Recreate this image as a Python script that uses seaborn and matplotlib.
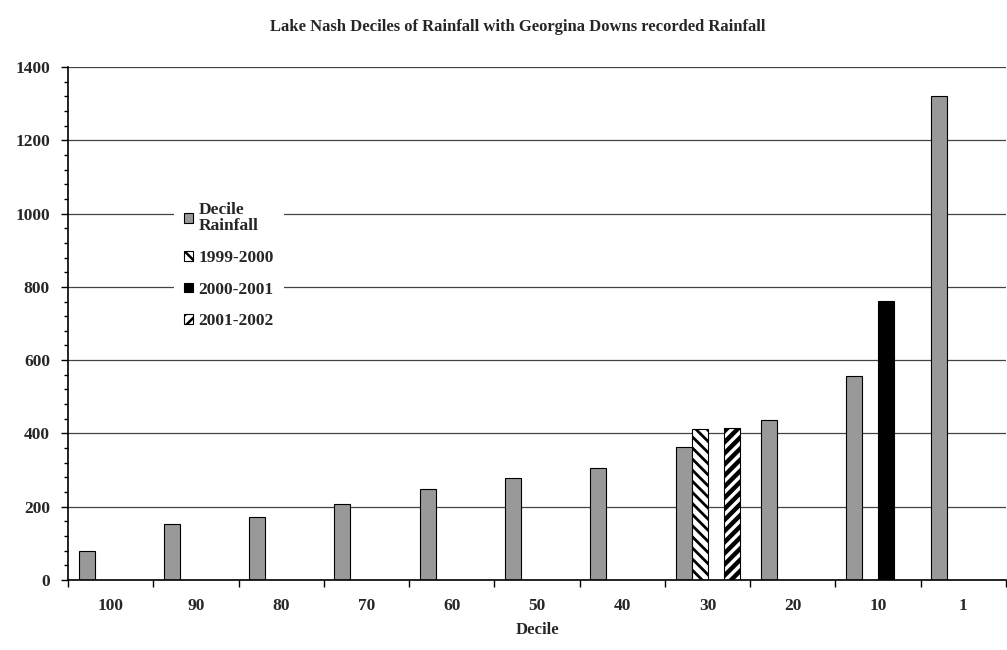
import matplotlib
matplotlib.use("Agg")
import matplotlib.pyplot as plt
import seaborn as sns
import pandas as pd
import numpy as np
from matplotlib.ticker import MultipleLocator, FixedLocator, NullFormatter
from matplotlib.patches import Patch

# ---------------- data ----------------
deciles = ["100", "90", "80", "70", "60", "50", "40", "30", "20", "10", "1"]
decile_rainfall = [78, 154, 172, 208, 248, 279, 307, 362, 436, 556, 1321]
rain_1999_2000 = [None, None, None, None, None, None, None, 411, None, None, None]
rain_2000_2001 = [None, None, None, None, None, None, None, None, None, 761, None]
rain_2001_2002 = [None, None, None, None, None, None, None, 416, None, None, None]
series_names = ["Decile Rainfall", "1999-2000", "2000-2001", "2001-2002"]
legend_labels = ["Decile\nRainfall", "1999-2000", "2000-2001", "2001-2002"]
y_ticks = [0, 200, 400, 600, 800, 1000, 1200, 1400]

rows = []
for name, vals in zip(series_names,
                      [decile_rainfall, rain_1999_2000, rain_2000_2001, rain_2001_2002]):
    for d, v in zip(deciles, vals):
        if v is not None:
            rows.append({"Decile": d, "Series": name, "Rainfall": v})
df = pd.DataFrame(rows)

# ---------------- style ----------------
sns.set_style("white")
plt.rcParams["font.family"] = ["Liberation Serif", "DejaVu Serif"]
plt.rcParams["font.weight"] = "bold"
plt.rcParams["hatch.linewidth"] = 1.8

fig = plt.figure(figsize=(10.07, 6.5), dpi=100)
ax = fig.add_axes([68 / 1007, 70 / 650, 1 - 68 / 1007 - 0.001, (580 - 67) / 650])

palette = {"Decile Rainfall": "#999999", "1999-2000": "white",
           "2000-2001": "black", "2001-2002": "white"}

sns.barplot(data=df, x="Decile", y="Rainfall", hue="Series",
            order=deciles, hue_order=series_names, palette=palette,
            width=0.75, dodge=True, edgecolor="black", linewidth=0.8,
            saturation=1, errorbar=None, legend=False, ax=ax)

hatches = {"1999-2000": ("\\\\\\", 2.0), "2001-2002": ("///", 3.2)}
for name, cont in zip(series_names, ax.containers):
    if name in hatches:
        h, lw = hatches[name]
        for p in cont.patches:
            p.set_hatch(h)
            p.set_edgecolor("black")
            if hasattr(p, "set_hatch_linewidth"):
                p.set_hatch_linewidth(lw)

# axes limits / ticks
ax.set_ylim(0, 1400)
ax.set_xlim(-0.5, len(deciles) - 0.5)
ax.yaxis.set_major_locator(FixedLocator(y_ticks))
ax.yaxis.set_minor_locator(MultipleLocator(40))
ax.xaxis.set_minor_locator(FixedLocator(np.arange(-0.5, len(deciles), 1.0)))
ax.xaxis.set_minor_formatter(NullFormatter())
ax.tick_params(axis="x", which="major", length=0, pad=13, labelsize=12.5)
ax.tick_params(axis="x", which="minor", length=5, width=1, direction="out",
               bottom=True, color="black")
ax.tick_params(axis="y", which="major", length=5, width=1, direction="out",
               left=True, pad=8, labelsize=12.5, color="black")
ax.tick_params(axis="y", which="minor", length=3, width=1, direction="out",
               left=True, color="black")
for lab in ax.get_xticklabels() + ax.get_yticklabels():
    lab.set_fontweight("bold")

ax.yaxis.grid(True, color="#444444", linewidth=0.9)
ax.xaxis.grid(False)
ax.set_axisbelow(True)
for s in ["top", "right"]:
    ax.spines[s].set_visible(False)
for s in ["left", "bottom"]:
    ax.spines[s].set_color("black")
    ax.spines[s].set_linewidth(1.2)

ax.set_ylabel("")
ax.set_xlabel("Decile", fontsize=12, fontweight="bold", labelpad=6)
fig.text(518 / 1007, 1 - 27 / 650,
         "Lake Nash Deciles of Rainfall with Georgina Downs recorded Rainfall",
         ha="center", va="center", fontsize=12, fontweight="bold")

# legend
handles = []
for name in series_names:
    fc = palette[name]
    h = Patch(facecolor=fc, edgecolor="black", linewidth=0.8,
              hatch=hatches[name][0] if name in hatches else None)
    handles.append(h)
leg = ax.legend(handles, legend_labels, loc="upper left",
                bbox_to_anchor=(174 / 1007, 1 - 192 / 650),
                bbox_transform=fig.transFigure,
                frameon=True, fancybox=False, framealpha=1,
                edgecolor="white", facecolor="white",
                handlelength=0.5, handleheight=0.5, handletextpad=0.3,
                labelspacing=0.9, borderpad=0.6, borderaxespad=0,
                prop={"family": "Liberation Serif", "weight": "bold", "size": 12.5})
leg.get_frame().set_linewidth(0)
for t in leg.get_texts():
    t.set_linespacing(1.0)

fig.savefig("out.png", dpi=100)
